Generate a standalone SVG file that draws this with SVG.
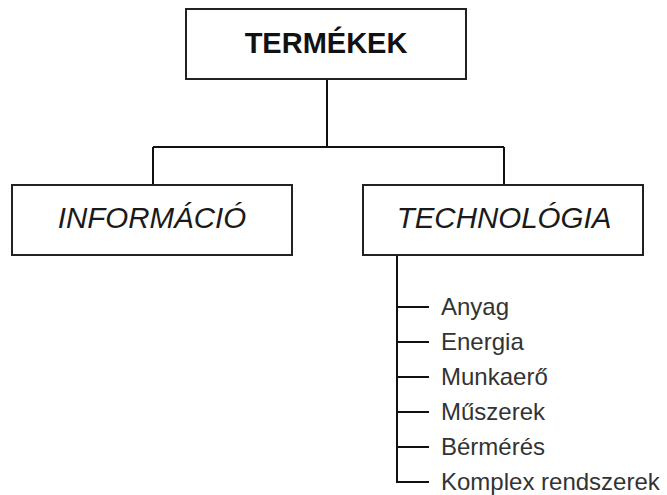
<svg xmlns="http://www.w3.org/2000/svg" width="667" height="495" viewBox="0 0 667 495">
  <style>
    .box { fill: #ffffff; stroke: #222222; stroke-width: 2; }
    .wire { fill: none; stroke: #111111; stroke-width: 2; }
    .head { font-family: "Liberation Sans", Arial, sans-serif; font-size: 29.5px; fill: #1a1a1a; text-anchor: middle; }
    .root { font-weight: bold; font-size: 29px; fill: #111111; }
    .cat { font-style: italic; }
    .leaf { font-family: "Liberation Sans", Arial, sans-serif; font-size: 24px; fill: #333333; }
  </style>
  <rect width="667" height="495" fill="#ffffff"/>

  <g id="connectors">
    <path class="wire" d="M327 79 V147 M153 147 H504 M153 147 V185 M504 147 V185"/>
    <path class="wire" d="M397 255 V482 H429 M397 307 H429 M397 342 H429 M397 377 H429 M397 412 H429 M397 447 H429"/>
  </g>

  <g id="termekek">
    <rect class="box" x="186" y="9" width="280" height="70"/>
    <text class="head root" x="326" y="53">TERMÉKEK</text>
  </g>

  <g id="informacio">
    <rect class="box" x="12" y="185" width="280" height="70"/>
    <text class="head cat" x="152" y="228">INFORMÁCIÓ</text>
  </g>

  <g id="technologia">
    <rect class="box" x="363" y="185" width="280" height="70"/>
    <text class="head cat" x="504" y="228">TECHNOLÓGIA</text>
  </g>

  <g id="items">
    <text class="leaf" x="441" y="315">Anyag</text>
    <text class="leaf" x="441" y="350">Energia</text>
    <text class="leaf" x="441" y="385">Munkaerő</text>
    <text class="leaf" x="441" y="420">Műszerek</text>
    <text class="leaf" x="441" y="455">Bérmérés</text>
    <text class="leaf" x="441" y="490">Komplex rendszerek</text>
  </g>
</svg>
